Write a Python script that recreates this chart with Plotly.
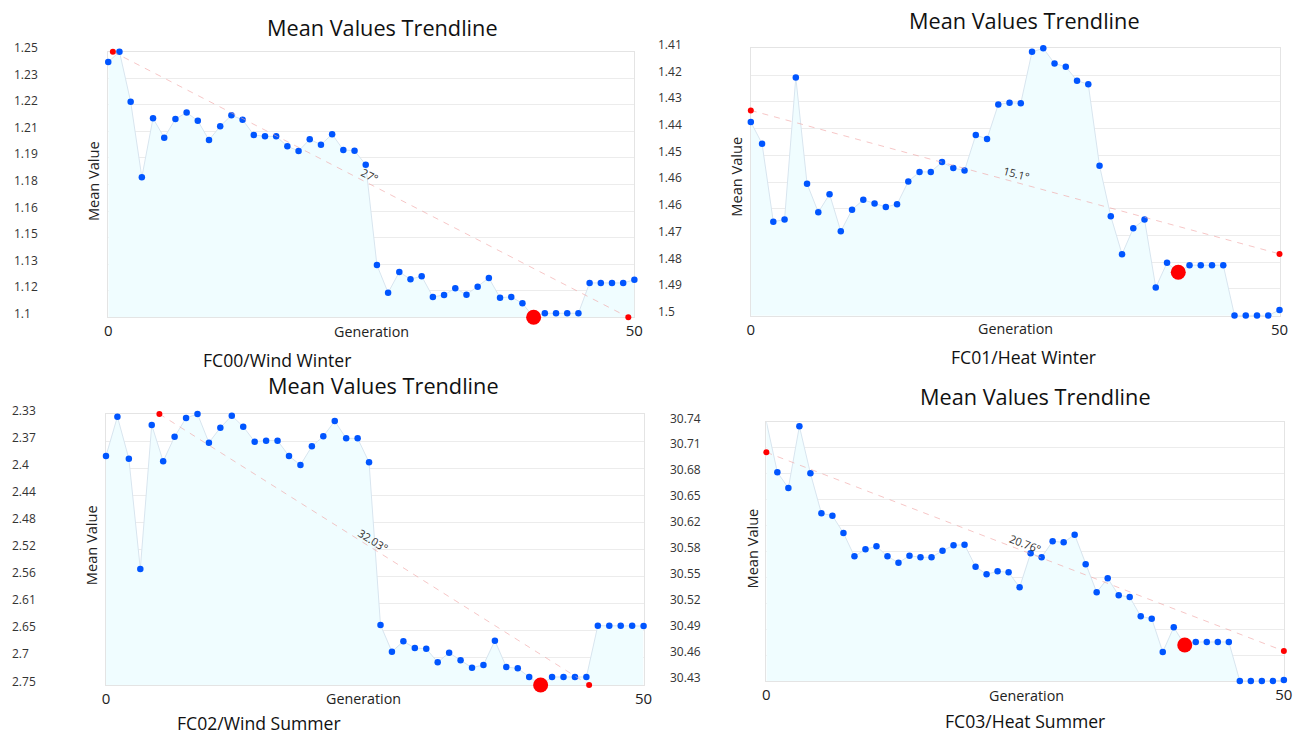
import numpy as np
import plotly.graph_objects as go

W, H = 1309, 738
FONT = "Open Sans"

# ---------------- data ----------------
generation_index = list(range(48))
generation_tick_text = ["0", "50"]

fc00_values = [1.2442, 1.2500, 1.2218, 1.1791, 1.2124, 1.2014, 1.2120, 1.2156, 1.2110, 1.2001,
               1.2079, 1.2141, 1.2116, 1.2030, 1.2022, 1.2022, 1.1966, 1.1939, 1.2005, 1.1975,
               1.2034, 1.1945, 1.1941, 1.1862, 1.1295, 1.1139, 1.1256, 1.1215, 1.1232, 1.1115,
               1.1126, 1.1164, 1.1128, 1.1173, 1.1222, 1.1111, 1.1115, 1.1079, 1.1000, 1.1023,
               1.1023, 1.1023, 1.1023, 1.1194, 1.1194, 1.1194, 1.1194, 1.1212]
fc01_values = [1.4348, 1.4421, 1.4684, 1.4676, 1.4198, 1.4556, 1.4652, 1.4591, 1.4716, 1.4643,
               1.4610, 1.4622, 1.4634, 1.4625, 1.4548, 1.4516, 1.4516, 1.4483, 1.4503, 1.4511,
               1.4392, 1.4405, 1.4289, 1.4283, 1.4285, 1.4112, 1.4100, 1.4151, 1.4162, 1.4209,
               1.4221, 1.4495, 1.4665, 1.4793, 1.4706, 1.4676, 1.4905, 1.4822, 1.4854, 1.4830,
               1.4830, 1.4830, 1.4830, 1.4999, 1.4999, 1.4999, 1.4999, 1.4981]
fc02_values = [2.3951, 2.3342, 2.3993, 2.5702, 2.3470, 2.4033, 2.3652, 2.3362, 2.3300, 2.3744,
               2.3512, 2.3326, 2.3496, 2.3729, 2.3713, 2.3713, 2.3951, 2.4090, 2.3801, 2.3646,
               2.3409, 2.3677, 2.3677, 2.4049, 2.6570, 2.6984, 2.6823, 2.6927, 2.6937, 2.7148,
               2.7000, 2.7118, 2.7232, 2.7189, 2.6813, 2.7221, 2.7242, 2.7376, 2.7500, 2.7376,
               2.7376, 2.7376, 2.7376, 2.6581, 2.6581, 2.6581, 2.6581, 2.6586]
fc03_values = [30.7404, 30.6798, 30.6610, 30.7349, 30.6786, 30.6307, 30.6279, 30.6071, 30.5792, 30.5876,
               30.5912, 30.5792, 30.5716, 30.5800, 30.5781, 30.5781, 30.5860, 30.5924, 30.5932, 30.5668,
               30.5577, 30.5613, 30.5601, 30.5421, 30.5828, 30.5781, 30.5972, 30.5960, 30.6051, 30.5697,
               30.5362, 30.5529, 30.5326, 30.5305, 30.5074, 30.5046, 30.4647, 30.4943, 30.4731, 30.4767,
               30.4767, 30.4767, 30.4767, 30.4300, 30.4300, 30.4300, 30.4300, 30.4312]

fc00_ticks = ["1.1", "1.12", "1.13", "1.15", "1.16", "1.18", "1.19", "1.21", "1.22", "1.23", "1.25"]
fc01_ticks = ["1.41", "1.42", "1.43", "1.44", "1.45", "1.46", "1.46", "1.47", "1.48", "1.49", "1.5"]
fc02_ticks = ["2.33", "2.37", "2.4", "2.44", "2.48", "2.52", "2.56", "2.61", "2.65", "2.7", "2.75"]
fc03_ticks = ["30.43", "30.46", "30.49", "30.52", "30.55", "30.58", "30.62", "30.65", "30.68", "30.71", "30.74"]

# trend lines (endpoints)
fc00_trend_x, fc00_trend_y = [0.41, 46.46], [1.25, 1.10]
fc01_trend_x, fc01_trend_y = [0, 47], [1.4309, 1.4792]
fc02_trend_x, fc02_trend_y = [4.67, 42.24], [2.33, 2.75]
fc03_trend_x, fc03_trend_y = [0, 47], [30.7037, 30.4659]

trend_angles = [27, 15.1, 32.03, 20.76]
trend_angle_labels = ["27°", "15.1°", "32.03°", "20.76°"]
trend_label_x = [23.4, 23.6, 23.4, 23.5]
trend_label_y = [1.180, 1.4523, 2.5253, 30.5948]

best_index = 38

titles = ["Mean Values Trendline"] * 4
subtitles = ["FC00/Wind Winter", "FC01/Heat Winter", "FC02/Wind Summer", "FC03/Heat Summer"]

# --------------- layout (pixels) ---------------
panels = [
    dict(values=fc00_values, ticks=fc00_ticks, ymin=1.10, ymax=1.25, reverse=False,
         tx=fc00_trend_x, ty=fc00_trend_y,
         box=(105.3, 636.7, 51.7, 317.3), ylab_x=8, title_xy=(382, 27), sub_xy=(276, 360),
         gen_xy=(371, 331), mv_xy=(90, 181)),
    dict(values=fc01_values, ticks=fc01_ticks, ymin=1.41, ymax=1.50, reverse=True,
         tx=fc01_trend_x, ty=fc01_trend_y,
         box=(754.3, 1288.3, 48.3, 315.7), ylab_x=659, title_xy=(1031, 21), sub_xy=(1030, 357),
         gen_xy=(1022, 329), mv_xy=(739, 177)),
    dict(values=fc02_values, ticks=fc02_ticks, ymin=2.33, ymax=2.75, reverse=True,
         tx=fc02_trend_x, ty=fc02_trend_y,
         box=(103.0, 646.0, 414.0, 685.0), ylab_x=6, title_xy=(383, 386), sub_xy=(258, 723),
         gen_xy=(363, 698), mv_xy=(88, 545)),
    dict(values=fc03_values, ticks=fc03_ticks, ymin=30.43, ymax=30.74, reverse=False,
         tx=fc03_trend_x, ty=fc03_trend_y,
         box=(770.0, 1292.7, 422.0, 681.0), ylab_x=671, title_xy=(1042, 396), sub_xy=(1031, 721),
         gen_xy=(1033, 695), mv_xy=(756, 548)),
]

def px(x):
    return x / W

def py(y):
    return 1 - y / H

fig = go.Figure()
annotations = []
layout_axes = {}

for i, p in enumerate(panels):
    n = i + 1
    xa = "x" if n == 1 else f"x{n}"
    ya = "y" if n == 1 else f"y{n}"
    xname = "xaxis" if n == 1 else f"xaxis{n}"
    yname = "yaxis" if n == 1 else f"yaxis{n}"
    vals = p["values"]
    bottom = p["ymax"] if p["reverse"] else p["ymin"]

    fig.add_trace(go.Scatter(x=generation_index, y=[bottom] * len(generation_index),
                             mode="lines", line=dict(width=0, color="rgba(0,0,0,0)"),
                             hoverinfo="skip", showlegend=False, xaxis=xa, yaxis=ya))
    fig.add_trace(go.Scatter(x=generation_index, y=vals, mode="lines+markers",
                             line=dict(color="#d8e5ef", width=1),
                             marker=dict(color="#0055ff", size=6.5),
                             fill="tonexty", fillcolor="#f0fdff",
                             cliponaxis=False, showlegend=False, xaxis=xa, yaxis=ya))
    fig.add_trace(go.Scatter(x=p["tx"], y=p["ty"], mode="lines+markers",
                             line=dict(color="rgba(240,160,160,0.6)", width=1, dash="6px,6px"),
                             marker=dict(color="#ff0000", size=6),
                             cliponaxis=False, showlegend=False, xaxis=xa, yaxis=ya))
    fig.add_trace(go.Scatter(x=[generation_index[best_index]], y=[vals[best_index]], mode="markers",
                             marker=dict(color="#ff0000", size=15),
                             cliponaxis=False, showlegend=False, xaxis=xa, yaxis=ya))

    x0, x1, y0, y1 = p["box"]
    tickvals = list(np.linspace(p["ymin"], p["ymax"], len(p["ticks"])))
    layout_axes[xname] = dict(domain=[px(x0), px(x1)], anchor=ya, range=[0, 47],
                              tickvals=[generation_index[0], generation_index[-1]],
                              ticktext=generation_tick_text, showgrid=False, zeroline=False,
                              showline=True, mirror=True, linecolor="#e4e4e4", linewidth=1,
                              layer="below traces",
                              ticks="", tickfont=dict(size=15, color="#222", family=FONT))
    yrange = [p["ymax"], p["ymin"]] if p["reverse"] else [p["ymin"], p["ymax"]]
    layout_axes[yname] = dict(domain=[py(y1), py(y0)], anchor=xa, range=yrange,
                              tickvals=tickvals, showticklabels=False, showgrid=True,
                              gridcolor="#ececec", gridwidth=1, zeroline=False,
                              layer="below traces",
                              showline=True, mirror=True, linecolor="#e4e4e4", ticks="")

    for tv, tt in zip(tickvals, p["ticks"]):
        annotations.append(dict(xref="paper", yref=ya, x=px(p["ylab_x"]), y=tv, text=tt,
                                xanchor="left", yanchor="middle", yshift=4, showarrow=False,
                                font=dict(size=12, color="#333", family=FONT)))

    annotations.append(dict(xref=xa, yref=ya, x=trend_label_x[i], y=trend_label_y[i],
                            text=trend_angle_labels[i], textangle=trend_angles[i], showarrow=False,
                            font=dict(size=11, color="#333", family=FONT)))
    annotations.append(dict(xref="paper", yref="paper", x=px(p["title_xy"][0]), y=py(p["title_xy"][1]),
                            text=titles[i], showarrow=False, xanchor="center", yanchor="middle",
                            font=dict(size=21.7, color="#111", family=FONT)))
    annotations.append(dict(xref="paper", yref="paper", x=px(p["sub_xy"][0]), y=py(p["sub_xy"][1]),
                            text=subtitles[i], showarrow=False, xanchor="center", yanchor="middle",
                            font=dict(size=17.6, color="#111", family=FONT)))
    annotations.append(dict(xref="paper", yref="paper", x=px(p["gen_xy"][0]), y=py(p["gen_xy"][1]),
                            text="Generation", showarrow=False, xanchor="center", yanchor="middle",
                            font=dict(size=14.3, color="#222", family=FONT)))
    annotations.append(dict(xref="paper", yref="paper", x=px(p["mv_xy"][0]), y=py(p["mv_xy"][1]),
                            text="Mean Value", textangle=-90, showarrow=False,
                            xanchor="center", yanchor="middle",
                            font=dict(size=14.6, color="#222", family=FONT)))

fig.update_layout(width=W, height=H, margin=dict(l=0, r=0, t=0, b=0),
                  paper_bgcolor="white", plot_bgcolor="white",
                  font=dict(family=FONT), annotations=annotations, showlegend=False,
                  **layout_axes)

fig.write_html("out.html")
